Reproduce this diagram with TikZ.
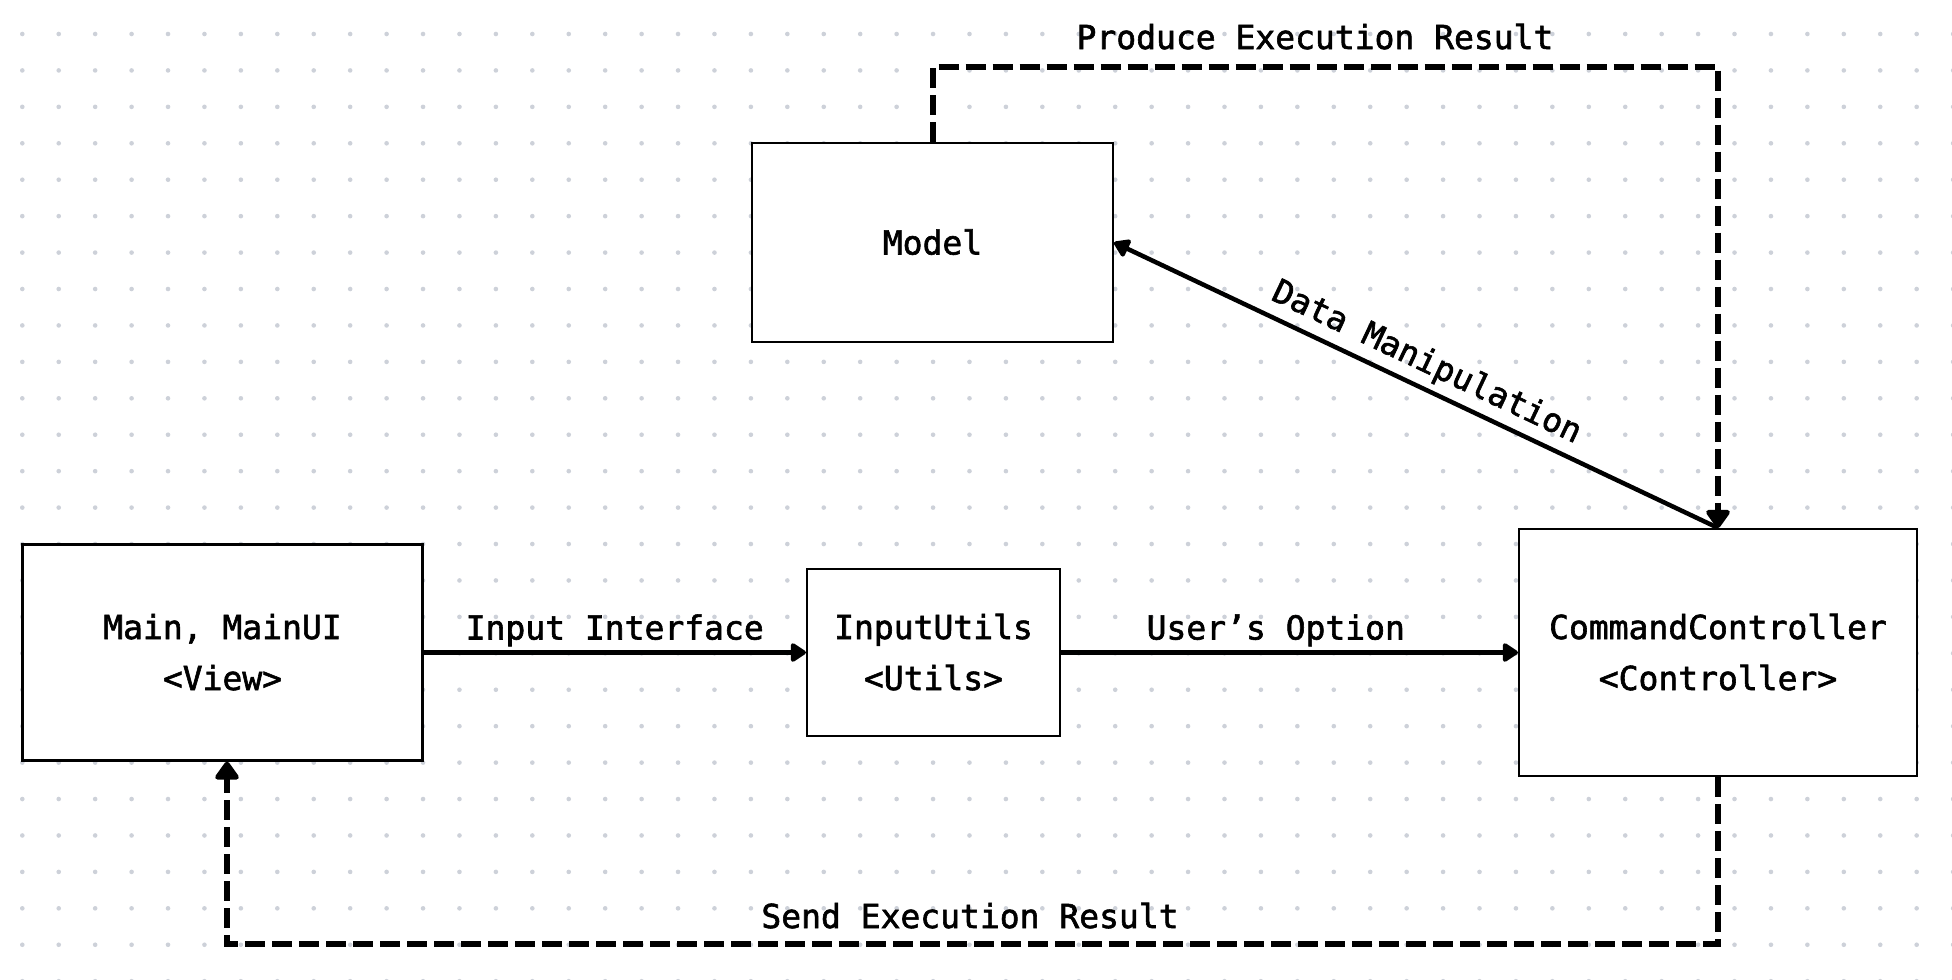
\documentclass[tikz,border=0pt]{standalone}
\usepackage{fontspec}
\setmonofont{DejaVu Sans Mono}[FakeBold=1.8]
\usetikzlibrary{arrows.meta}
\definecolor{dotc}{HTML}{CDD1D9}
\begin{document}
\begin{tikzpicture}[x=1pt,y=-1pt,
  box/.style={draw=black, line width=2.2pt, fill=white, font=\ttfamily\fontsize{33}{51}\selectfont, align=center, text height=24pt, text depth=0pt, inner sep=0pt},
  twoline/.style={text height=75pt, text depth=0pt},
  lbl/.style={font=\ttfamily\fontsize{33}{40}\selectfont, text height=24pt, text depth=0pt, inner sep=0pt},
  sarrow/.style={line width=4.5pt, -{Triangle[length=17pt,width=21pt,round]}},
  darrow/.style={line width=6pt, dash pattern=on 20pt off 7pt, -{Triangle[length=20pt,width=27pt,round]}}]
\useasboundingbox (0,0) rectangle (1952,980);
\clip (0,0) rectangle (1952,980);
\fill[white] (0,0) rectangle (1952,980);
\foreach \i in {0,...,53} {
  \foreach \j in {0,...,26} {
    \fill[dotc] (22.3+36.43*\i, 34+36.43*\j) circle (2.3pt);
  }
}
% nodes
\node[box, twoline, minimum width=400pt, minimum height=216pt] (main) at (222.5,652.5) {Main, MainUI\\<View>};
\node[box, minimum width=361pt, minimum height=199pt] (model) at (932.5,242.5) {Model};
\node[box, twoline, minimum width=253pt, minimum height=167pt] (utils) at (933.5,652.5) {InputUtils\\<Utils>};
\node[box, twoline, minimum width=398pt, minimum height=247pt] (ctrl) at (1718,652.5) {CommandController\\<Controller>};
% coordinates for dashed routes
\coordinate (tc) at (0,67);
\coordinate (bc) at (0,944);
\coordinate (mainin) at ([xshift=4.5pt]main.south);
% solid connectors
\draw[sarrow] (main.east) -- node[lbl, midway, yshift=25pt] (lin) {Input Interface} (utils.west);
\draw[sarrow] (utils.east) -- node[lbl, pos=0.47, yshift=25pt] (lopt) {User’s Option} (ctrl.west);
\draw[sarrow] (ctrl.north) -- node[lbl, midway, sloped, above=13pt] (ldata) {Data Manipulation} (model.east);
% dashed connectors
\draw[darrow] (model.north) -- (model.north |- tc) -- (ctrl.north |- tc) -- (ctrl.north);
\node[lbl] (lprod) at (1315,37) {Produce Execution Result};
\draw[darrow] (ctrl.south) -- (ctrl.south |- bc) -- (mainin |- bc) -- (mainin);
\node[lbl] (lsend) at (970,916) {Send Execution Result};
\end{tikzpicture}
\end{document}
